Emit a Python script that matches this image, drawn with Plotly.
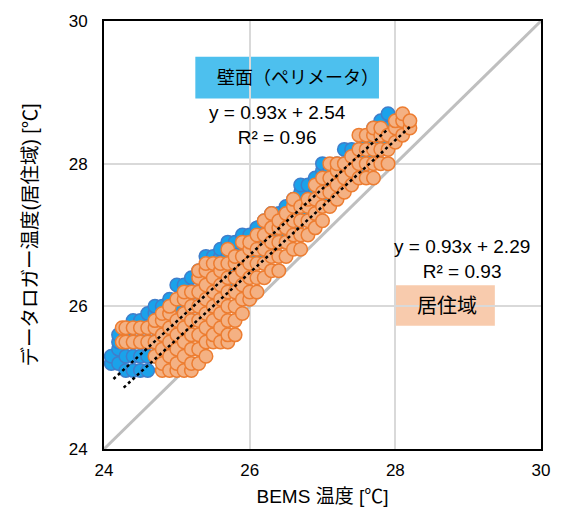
import plotly.graph_objects as go

# ---- data ----
perimeter_cols = {
    24.1: [25.2, 25.3],
    24.2: [25.2, 25.4, 25.5, 25.6],
    24.3: [25.1, 25.3, 25.5, 25.6],
    24.4: [25.1, 25.3, 25.5, 25.7, 25.8],
    24.5: [25.1, 25.3, 25.5, 25.7, 25.8],
    24.6: [25.1, 25.3, 25.5, 25.7, 25.9],
    24.7: [25.3, 25.5, 25.7, 25.9, 26.0],
    24.8: [25.5, 25.7, 25.9, 26.0],
    24.9: [25.7, 25.9, 26.1],
    25.0: [25.8, 26.0, 26.3],
    25.1: [25.9, 26.1, 26.3],
    25.2: [26.0, 26.2, 26.4],
    25.3: [26.0, 26.2, 26.4, 26.5],
    25.4: [26.1, 26.3, 26.5, 26.7],
    25.5: [26.2, 26.4, 26.6, 26.7],
    25.6: [26.3, 26.5, 26.7, 26.8],
    25.7: [26.3, 26.5, 26.7, 26.9],
    25.8: [26.4, 26.6, 26.8, 26.9],
    25.9: [26.5, 26.7, 26.9, 27.0],
    26.0: [26.6, 26.8, 27.0],
    26.1: [26.7, 26.9, 27.1],
    26.2: [26.8, 27.0, 27.2],
    26.3: [26.8, 27.0, 27.2, 27.3],
    26.4: [26.9, 27.1, 27.3],
    26.5: [27.0, 27.2, 27.4],
    26.6: [27.1, 27.3, 27.5],
    26.7: [27.2, 27.4, 27.6, 27.7],
    26.8: [27.3, 27.5, 27.7],
    26.9: [27.4, 27.6, 27.8],
    27.0: [27.5, 27.7, 27.9, 28.0],
    27.1: [27.6, 27.8, 27.9],
    27.2: [27.7, 27.9, 28.0],
    27.3: [27.8, 28.0, 28.2],
    27.4: [27.8, 28.0, 28.2],
    27.5: [27.9, 28.1, 28.2],
    27.6: [28.0, 28.2, 28.3],
    27.7: [28.1, 28.3, 28.5],
    27.8: [28.2, 28.4, 28.6],
    27.9: [28.3, 28.5, 28.7],
}

living_cols = {
    24.25: [25.5, 25.7],
    24.3: [25.5, 25.7],
    24.4: [25.5, 25.7],
    24.5: [25.5, 25.7],
    24.6: [25.5, 25.7],
    24.7: [25.3, 25.5, 25.7, 25.8],
    24.8: [25.1, 25.2, 25.4, 25.6, 25.8, 25.9],
    24.9: [25.1, 25.3, 25.5, 25.7, 25.9, 26.0],
    25.0: [25.1, 25.2, 25.4, 25.6, 25.8, 26.1],
    25.1: [25.1, 25.3, 25.5, 25.7, 25.9, 26.1, 26.2],
    25.2: [25.1, 25.2, 25.4, 25.6, 25.8, 26.0, 26.2],
    25.3: [25.2, 25.4, 25.6, 25.8, 26.0, 26.2, 26.4, 26.5],
    25.4: [25.3, 25.5, 25.7, 25.9, 26.1, 26.3, 26.5, 26.6],
    25.5: [25.5, 25.6, 25.8, 26.0, 26.2, 26.4, 26.6],
    25.6: [25.5, 25.7, 25.9, 26.1, 26.3, 26.5, 26.6],
    25.7: [25.5, 25.6, 25.8, 26.0, 26.2, 26.4, 26.6, 26.8],
    25.8: [25.6, 25.8, 26.0, 26.2, 26.4, 26.6, 26.7],
    25.9: [25.9, 26.1, 26.3, 26.5, 26.7, 26.9],
    26.0: [26.1, 26.2, 26.4, 26.6, 26.8, 26.9],
    26.1: [26.2, 26.4, 26.6, 26.8, 27.0],
    26.2: [26.4, 26.6, 26.8, 27.0, 27.2],
    26.3: [26.5, 26.7, 26.9, 27.1, 27.3],
    26.4: [26.5, 26.7, 26.9, 27.1, 27.2],
    26.5: [26.7, 26.9, 27.1, 27.3],
    26.6: [26.8, 27.0, 27.2, 27.4, 27.5],
    26.7: [26.8, 27.0, 27.2, 27.4],
    26.8: [27.0, 27.2, 27.4, 27.5],
    26.9: [27.1, 27.3, 27.5, 27.7],
    27.0: [27.2, 27.4, 27.6, 27.8],
    27.1: [27.4, 27.6, 27.8, 28.0],
    27.2: [27.5, 27.7, 27.9, 28.0],
    27.3: [27.6, 27.8, 28.0],
    27.4: [27.7, 27.9, 28.1],
    27.5: [27.8, 28.0, 28.2, 28.4],
    27.6: [27.8, 28.0, 28.2, 28.4],
    27.7: [27.8, 28.0, 28.2, 28.4, 28.5],
    27.8: [28.0, 28.2, 28.4, 28.5],
    27.9: [28.0, 28.2, 28.4],
    28.0: [28.3, 28.5, 28.6],
    28.1: [28.4, 28.6, 28.7],
    28.2: [28.5, 28.6],
}

perimeter_x = [x for x, ys in perimeter_cols.items() for _ in ys]
perimeter_y = [y for ys in perimeter_cols.values() for y in ys]
living_x = [x for x, ys in living_cols.items() for _ in ys]
living_y = [y for ys in living_cols.values() for y in ys]

# trendlines (from the equations shown on the chart)
perimeter_fit = (0.93, 2.54, 0.96)
living_fit = (0.93, 2.29, 0.93)
perimeter_fit_x = [24.13, 27.9]
living_fit_x = [24.27, 28.2]

axis_ticks = [24, 26, 28, 30]
axis_range = [24, 30]

FONT = "Arial, 'Liberation Sans', 'Noto Sans CJK JP', sans-serif"

fig = go.Figure()

# 1:1 line
fig.add_trace(go.Scatter(x=axis_range, y=axis_range, mode="lines",
                         line=dict(color="#BFBFBF", width=3),
                         hoverinfo="skip", showlegend=False))

fig.add_trace(go.Scatter(x=perimeter_x, y=perimeter_y, mode="markers",
                         marker=dict(size=13.5, color="#1AA2EA",
                                     line=dict(color="#3F7ECB", width=1.5)),
                         showlegend=False, name="壁面（ペリメータ）"))
fig.add_trace(go.Scatter(x=living_x, y=living_y, mode="markers",
                         marker=dict(size=13.5, color="#F4B183",
                                     line=dict(color="#ED7D31", width=1.5)),
                         showlegend=False, name="居住域"))

for fx, (a, b, _) in [(perimeter_fit_x, perimeter_fit), (living_fit_x, living_fit)]:
    fig.add_trace(go.Scatter(x=fx, y=[a * v + b for v in fx], mode="lines",
                             line=dict(color="black", width=2.5, dash="dot"),
                             hoverinfo="skip", showlegend=False))

axis_common = dict(range=axis_range, tickvals=axis_ticks, showgrid=True,
                   gridcolor="#D9D9D9", gridwidth=1.5, zeroline=False,
                   showline=True, linecolor="black", linewidth=2, mirror=True,
                   ticks="", tickfont=dict(family=FONT, size=17, color="black"))

fig.update_xaxes(**axis_common, ticklabelstandoff=5,
                 title=dict(text="BEMS 温度 [℃]", standoff=10,
                            font=dict(family=FONT, size=19, color="black")))
fig.update_yaxes(**axis_common, ticklabelstandoff=11,
                 title=dict(text="データロガー温度(居住域) [℃]", standoff=26,
                            font=dict(family=FONT, size=19.5, color="black")))

fig.update_layout(width=562, height=516,
                  margin=dict(l=104, r=13, t=20, b=65),
                  plot_bgcolor="white", paper_bgcolor="white",
                  font=dict(family=FONT, color="black"))

# label boxes
fig.add_shape(type="rect", xref="paper", yref="paper",
              x0=(197 - 104) / 445, x1=(384 - 104) / 445,
              y0=(451 - 98) / 431, y1=(451 - 56) / 431,
              fillcolor="#4DC0EE", line=dict(width=0), layer="below")
fig.add_shape(type="rect", xref="paper", yref="paper",
              x0=(400 - 104) / 445, x1=(502 - 104) / 445,
              y0=(451 - 327) / 431, y1=(451 - 286) / 431,
              fillcolor="#F8CBAD", line=dict(width=0), layer="below")

ann = dict(xref="paper", yref="paper", showarrow=False, xanchor="center",
           yanchor="middle", align="center")
fig.add_annotation(**ann, x=(302 - 104) / 445, y=(451 - 77) / 431,
                   text="壁面（ペリメータ）",
                   font=dict(family=FONT, size=18, color="black"))
fig.add_annotation(**ann, x=(453 - 104) / 445, y=(451 - 307) / 431,
                   text="居住域",
                   font=dict(family=FONT, size=20, color="black"))

fig.add_annotation(**ann, x=(281 - 104) / 445, y=(451 - 125) / 431,
                   text=f"y = {perimeter_fit[0]}x + {perimeter_fit[1]}<br>R² = {perimeter_fit[2]}",
                   font=dict(family=FONT, size=19, color="black"))
fig.add_annotation(**ann, x=(469 - 104) / 445, y=(451 - 260) / 431,
                   text=f"y = {living_fit[0]}x + {living_fit[1]}<br>R² = {living_fit[2]}",
                   font=dict(family=FONT, size=19, color="black"))

fig.write_html("out.html")
